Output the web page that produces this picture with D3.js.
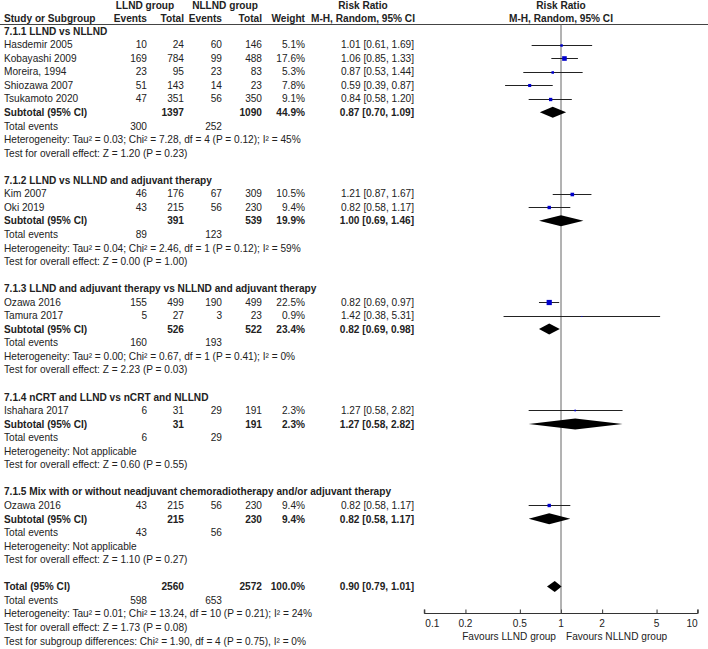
<!DOCTYPE html>
<html>
<head>
<meta charset="utf-8">
<script src="https://cdn.jsdelivr.net/npm/d3@7"></script>
<style>
  html, body { margin: 0; padding: 0; background: #fff; }
  svg { display: block; }
  text { font-family: "Liberation Sans", Arial, sans-serif; font-size: 10.12px; fill: #222; }
  .b { font-weight: bold; }
</style>
</head>
<body>
<script>
// ---------------- DATA ----------------
const subgroupTitles = [
  "7.1.1 LLND vs NLLND",
  "7.1.2 LLND vs NLLND and adjuvant therapy",
  "7.1.3 LLND and adjuvant therapy vs NLLND and adjuvant therapy",
  "7.1.4 nCRT and LLND vs nCRT and NLLND",
  "7.1.5 Mix with or without neadjuvant chemoradiotherapy and/or adjuvant therapy"
];
const studyNames   = ["Hasdemir 2005","Kobayashi 2009","Moreira, 1994","Shiozawa 2007","Tsukamoto 2020","Kim 2007","Oki 2019","Ozawa 2016","Tamura 2017","Ishahara 2017","Ozawa 2016"];
const studyGroup   = [0,0,0,0,0,1,1,2,2,3,4];
const eventsLLND   = [10,169,23,51,47,46,43,155,5,6,43];
const totalLLND    = [24,784,95,143,351,176,215,499,27,31,215];
const eventsNLLND  = [60,99,23,14,56,67,56,190,3,29,56];
const totalNLLND   = [146,488,83,23,350,309,230,499,23,191,230];
const studyWeight  = [5.1,17.6,5.3,7.8,9.1,10.5,9.4,22.5,0.9,2.3,9.4];
const studyRR      = [1.01,1.06,0.87,0.59,0.84,1.21,0.82,0.82,1.42,1.27,0.82];
const studyLow     = [0.61,0.85,0.53,0.39,0.58,0.87,0.58,0.69,0.38,0.58,0.58];
const studyHigh    = [1.69,1.33,1.44,0.87,1.20,1.67,1.17,0.97,5.31,2.82,1.17];

const subTotalLLND   = [1397,391,526,31,215];
const subTotalNLLND  = [1090,539,522,191,230];
const subWeight      = [44.9,19.9,23.4,2.3,9.4];
const subRR          = [0.87,1.00,0.82,1.27,0.82];
const subLow         = [0.70,0.69,0.69,0.58,0.58];
const subHigh        = [1.09,1.46,0.98,2.82,1.17];
const subEventsLLND  = [300,89,160,6,43];
const subEventsNLLND = [252,123,193,29,56];
const subHeterogeneity = [
  "Heterogeneity: Tau² = 0.03; Chi² = 7.28, df = 4 (P = 0.12); I² = 45%",
  "Heterogeneity: Tau² = 0.04; Chi² = 2.46, df = 1 (P = 0.12); I² = 59%",
  "Heterogeneity: Tau² = 0.00; Chi² = 0.67, df = 1 (P = 0.41); I² = 0%",
  "Heterogeneity: Not applicable",
  "Heterogeneity: Not applicable"
];
const subOverallTest = [
  "Test for overall effect: Z = 1.20 (P = 0.23)",
  "Test for overall effect: Z = 0.00 (P = 1.00)",
  "Test for overall effect: Z = 2.23 (P = 0.03)",
  "Test for overall effect: Z = 0.60 (P = 0.55)",
  "Test for overall effect: Z = 1.10 (P = 0.27)"
];
const overallTotals = [2560, 2572];
const overallWeight = [100.0];
const overallRR     = [0.90, 0.79, 1.01];
const overallEvents = [598, 653];
const overallNotes  = [
  "Heterogeneity: Tau² = 0.01; Chi² = 13.24, df = 10 (P = 0.21); I² = 24%",
  "Test for overall effect: Z = 1.73 (P = 0.08)",
  "Test for subgroup differences: Chi² = 1.90, df = 4 (P = 0.75), I² = 0%"
];
const axisTicks   = [0.1, 0.2, 0.5, 1, 2, 5, 10];
const favourLabels = ["Favours LLND group", "Favours NLLND group"];

// ---------------- LAYOUT ----------------
const W = 708, H = 649;
const col = { study: 4, ev1: 147, tot1: 184, ev2: 222, tot2: 262, weight: 305, rr: 414, rrHead: 363 };
const fmtW = d => d3.format(".1f")(d) + "%";
const f2 = d3.format(".2f");
const ciText = (r, l, h) => `${f2(r)} [${f2(l)}, ${f2(h)}]`;

const svg = d3.select("body").append("svg").attr("width", W).attr("height", H);
svg.append("rect").attr("width", W).attr("height", H).attr("fill", "#fff");

const x = d3.scaleLog().domain([0.1, 10]).range([424.3, 697.7]);
const yRow = d3.scaleLinear().domain([0, 45]).range([31, 640.8]);
const sq = d3.scaleSqrt().domain([0, 100]).range([0, 11]);

// Build row list
const rows = [];
let r = 0;
subgroupTitles.forEach((t, g) => {
  rows.push({ type: "title", row: r++, text: t });
  studyNames.forEach((n, i) => { if (studyGroup[i] === g) rows.push({ type: "study", row: r++, i }); });
  rows.push({ type: "subtotal", row: r++, g });
  rows.push({ type: "events", row: r++, a: subEventsLLND[g], b: subEventsNLLND[g] });
  rows.push({ type: "note", row: r++, text: subHeterogeneity[g] });
  rows.push({ type: "note", row: r++, text: subOverallTest[g] });
  r++; // blank
});
rows.push({ type: "total", row: r++ });
rows.push({ type: "events", row: r++, a: overallEvents[0], b: overallEvents[1] });
overallNotes.forEach(t => rows.push({ type: "note", row: r++, text: t }));

const base = rw => yRow(rw) + 3.7;

function txt(xp, yp, s, anchor, bold) {
  svg.append("text").attr("x", xp).attr("y", yp).attr("text-anchor", anchor || "start")
    .attr("class", bold ? "b" : null).text(s);
}

// Headers
const h1 = 9.3, h2 = 22.2;
txt(145, h1, "LLND group", "middle", true);
txt(225, h1, "NLLND group", "middle", true);
txt(col.rrHead, h1, "Risk Ratio", "middle", true);
txt(x(1), h1, "Risk Ratio", "middle", true);
txt(col.study, h2, "Study or Subgroup", "start", true);
txt(col.ev1, h2, "Events", "end", true);
txt(col.tot1, h2, "Total", "end", true);
txt(col.ev2, h2, "Events", "end", true);
txt(col.tot2, h2, "Total", "end", true);
txt(col.weight, h2, "Weight", "end", true);
txt(col.rrHead, h2, "M-H, Random, 95% CI", "middle", true);
txt(x(1), h2, "M-H, Random, 95% CI", "middle", true);
svg.append("line").attr("x1", 0).attr("x2", W).attr("y1", 24.5).attr("y2", 24.5)
  .attr("stroke", "#444").attr("stroke-width", 1);

// Axis
const axisY = 613.5;
const axisG = svg.append("g").attr("transform", `translate(0,${axisY})`)
  .call(d3.axisTop(x).tickValues(axisTicks).tickSize(4).tickFormat(""));
axisG.select(".domain").attr("d", `M${x(0.1)},-4V0H${x(10)}V-4`).attr("stroke", "#333");
axisG.selectAll(".tick line").attr("stroke", "#333");
axisTicks.forEach((t, i) => {
  const anchor = i === 0 ? "start" : (i === axisTicks.length - 1 ? "end" : "middle");
  const xo = i === 0 ? 1 : 0;
  txt(x(t) + xo, 627, String(t), anchor, false);
});
txt(x(1) - 5, 639.5, favourLabels[0], "end", false);
txt(x(1) + 5, 639.5, favourLabels[1], "start", false);

// Line of no effect
svg.append("line").attr("x1", x(1)).attr("x2", x(1)).attr("y1", 24.5).attr("y2", axisY)
  .attr("stroke", "#666").attr("stroke-width", 1);

function diamond(yc, rr, lo, hi) {
  const hh = 5.5;
  svg.append("path")
    .attr("d", `M${x(lo)},${yc}L${x(rr)},${yc - hh}L${x(hi)},${yc}L${x(rr)},${yc + hh}Z`)
    .attr("fill", "#000");
}

rows.forEach(d => {
  const yb = base(d.row), yc = yRow(d.row);
  if (d.type === "title") {
    txt(col.study, yb, d.text, "start", true);
  } else if (d.type === "study") {
    const i = d.i;
    txt(col.study, yb, studyNames[i]);
    txt(col.ev1, yb, eventsLLND[i], "end");
    txt(col.tot1, yb, totalLLND[i], "end");
    txt(col.ev2, yb, eventsNLLND[i], "end");
    txt(col.tot2, yb, totalNLLND[i], "end");
    txt(col.weight, yb, fmtW(studyWeight[i]), "end");
    txt(col.rr, yb, ciText(studyRR[i], studyLow[i], studyHigh[i]), "end");
    const ly = Math.round(yc) + 0.5;
    svg.append("line").attr("x1", x(studyLow[i])).attr("x2", x(studyHigh[i]))
      .attr("y1", ly).attr("y2", ly).attr("stroke", "#222").attr("stroke-width", 1);
    const s = Math.max(1, sq(studyWeight[i]));
    svg.append("rect").attr("x", x(studyRR[i]) - s / 2).attr("y", ly - s / 2)
      .attr("width", s).attr("height", s).attr("fill", "#0000cc");
  } else if (d.type === "subtotal") {
    const g = d.g;
    txt(col.study, yb, "Subtotal (95% CI)", "start", true);
    txt(col.tot1, yb, subTotalLLND[g], "end", true);
    txt(col.tot2, yb, subTotalNLLND[g], "end", true);
    txt(col.weight, yb, fmtW(subWeight[g]), "end", true);
    txt(col.rr, yb, ciText(subRR[g], subLow[g], subHigh[g]), "end", true);
    diamond(yc, subRR[g], subLow[g], subHigh[g]);
  } else if (d.type === "events") {
    txt(col.study, yb, "Total events");
    txt(col.ev1, yb, d.a, "end");
    txt(col.ev2, yb, d.b, "end");
  } else if (d.type === "note") {
    txt(col.study, yb, d.text);
  } else if (d.type === "total") {
    txt(col.study, yb, "Total (95% CI)", "start", true);
    txt(col.tot1, yb, overallTotals[0], "end", true);
    txt(col.tot2, yb, overallTotals[1], "end", true);
    txt(col.weight, yb, fmtW(overallWeight[0]), "end", true);
    txt(col.rr, yb, ciText(overallRR[0], overallRR[1], overallRR[2]), "end", true);
    diamond(yc, overallRR[0], overallRR[1], overallRR[2]);
  }
});
</script>
</body>
</html>
